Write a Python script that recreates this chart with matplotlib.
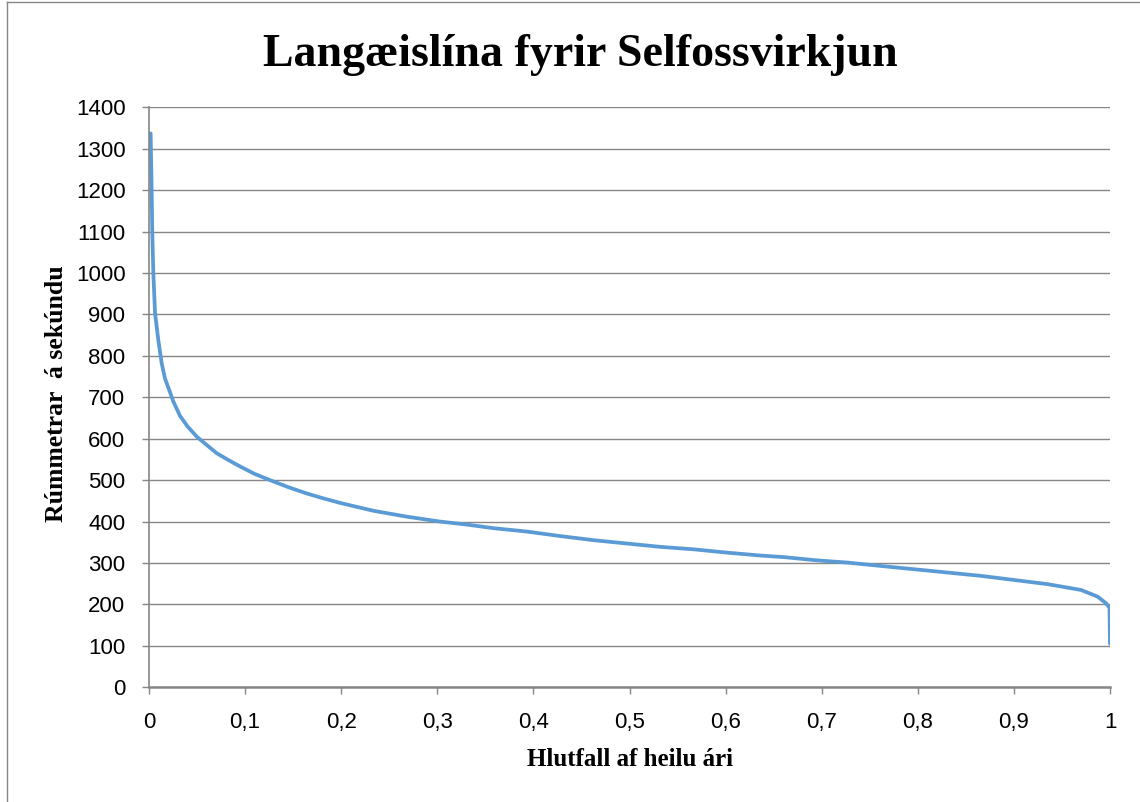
import numpy as np
import matplotlib
matplotlib.use("Agg")
import matplotlib.pyplot as plt
from matplotlib.lines import Line2D
from matplotlib.ticker import FuncFormatter

# duration curve
hlutfall = [0.0017, 0.0028, 0.0034, 0.0045, 0.0063, 0.0097, 0.0132, 0.0167,
            0.0219, 0.0253, 0.0323, 0.040, 0.0497, 0.060, 0.0705, 0.083,
            0.0948, 0.110, 0.126, 0.145, 0.164, 0.180, 0.199, 0.2337, 0.268,
            0.303, 0.33, 0.3587, 0.393, 0.428, 0.463, 0.4976, 0.532, 0.567,
            0.6017, 0.6365, 0.662, 0.692, 0.727, 0.761, 0.796, 0.831, 0.8656,
            0.9003, 0.935, 0.9698, 0.987, 0.9958, 0.9995, 1.0]
rennsli = [1337, 1195, 1100, 1000, 903, 838, 782, 745,
           712, 690, 655, 630, 605, 585, 565, 548,
           533, 515, 500, 483, 468, 457, 445, 426, 412,
           400, 393, 384, 376, 365, 355, 347, 339, 333,
           325, 318, 314, 307, 301, 293, 285, 277, 269,
           259, 249, 235, 219, 203, 192, 105]

titill = "Langæislína fyrir Selfossvirkjun"
x_heiti = "Hlutfall af heilu ári"
y_heiti = "Rúmmetrar  á sekúndu"

W, H = 1140, 802
fig = plt.figure(figsize=(W / 100, H / 100), dpi=100)
ax = fig.add_axes([149 / W, 1 - 687.3 / H, (1110 - 149) / W, (687.3 - 107.3) / H])

grar = "#868686"
ax.plot(hlutfall, rennsli, color="#5B9BD5", lw=2.7, solid_capstyle="round",
        solid_joinstyle="round")

ax.set_xlim(0, 1)
ax.set_ylim(0, 1400)
ax.set_xticks(np.arange(0, 1.01, 0.1))
ax.set_yticks(np.arange(0, 1401, 100))
ax.xaxis.set_major_formatter(FuncFormatter(
    lambda v, p: "0" if abs(v) < 1e-9 else ("1" if abs(v - 1) < 1e-9 else f"{v:.1f}".replace(".", ","))))
ax.grid(axis="y", color=grar, lw=1)
ax.set_axisbelow(True)
for s in ["top", "right"]:
    ax.spines[s].set_visible(False)
ax.spines["left"].set_color(grar)
ax.spines["bottom"].set_color(grar)
ax.spines["left"].set_linewidth(1.2)
ax.spines["bottom"].set_linewidth(1.8)
ax.tick_params(axis="y", length=5, color=grar, width=1, pad=12,
               labelsize=16, labelfontfamily="Liberation Sans")
ax.tick_params(axis="x", length=5, color=grar, width=1, pad=13,
               labelsize=16, labelfontfamily="Liberation Sans")

fig.text(580 / W, 1 - 55 / H, titill, ha="center", va="center",
         fontsize=33, fontweight="bold", family="Liberation Serif")
fig.text(630 / W, 1 - 760 / H, x_heiti, ha="center", va="center",
         fontsize=18, fontweight="bold", family="Liberation Serif")
fig.text(57 / W, 1 - 394 / H, y_heiti, ha="center", va="center", rotation=90,
         fontsize=18.5, fontweight="bold", family="Liberation Serif")

# chart frame (only left and top edges fall inside the picture)
fig.add_artist(Line2D([7.3 / W, 7.3 / W], [0, 1 - 1.7 / H], color=grar, lw=1))
fig.add_artist(Line2D([7.3 / W, 1], [1 - 1.7 / H, 1 - 1.7 / H], color=grar, lw=1))

fig.savefig("out.png", dpi=100)
